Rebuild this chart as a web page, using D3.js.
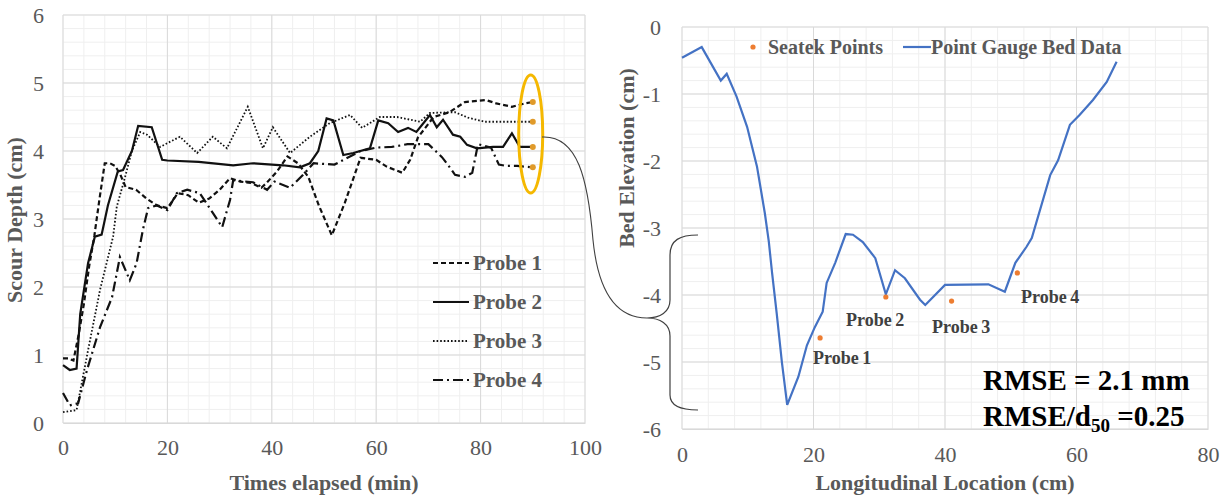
<!DOCTYPE html>
<html>
<head>
<meta charset="utf-8">
<script src="https://cdn.jsdelivr.net/npm/d3@7"></script>
<style>
  body { margin: 0; background: #fff; }
  svg { display: block; }
  text { font-family: "Times New Roman", "Liberation Serif", serif; }
</style>
</head>
<body>
<svg width="1231" height="500"></svg>
<script>
// left chart: scour depth over time, one pair of arrays per probe
var probe1T = [0, 1, 2, 3, 4, 5, 6, 7, 8, 9, 10, 11, 12, 14, 16, 18, 20, 22, 24, 26, 28, 30, 32, 34, 36, 38, 39, 41, 43, 45, 47, 49, 51.5, 54, 57, 60, 62, 65, 66.5, 68, 71, 74, 77, 81, 83, 86, 88.5, 90];
var probe1D = [0.95, 0.95, 0.92, 1.3, 1.75, 2.3, 2.75, 3.3, 3.82, 3.82, 3.78, 3.65, 3.47, 3.43, 3.3, 3.2, 3.16, 3.38, 3.35, 3.24, 3.3, 3.43, 3.6, 3.55, 3.53, 3.46, 3.53, 3.7, 3.92, 3.82, 3.62, 3.2, 2.76, 3.24, 3.9, 3.87, 3.77, 3.68, 3.87, 4.2, 4.5, 4.57, 4.72, 4.75, 4.7, 4.65, 4.7, 4.72];
var probe2T = [0, 1.3, 2.6, 3.3, 4.8, 6.1, 7.4, 8.6, 10.5, 11.5, 13.2, 14.4, 17, 19, 20, 26, 32.6, 36.4, 42.1, 45.4, 47.3, 48.9, 50.5, 51.8, 53.7, 55.6, 58.8, 60.4, 62.3, 64.2, 66.1, 67.7, 70.3, 71.6, 72.8, 74.7, 76.1, 77.4, 79.3, 82.4, 84.3, 86, 87.5, 90];
var probe2D = [0.85, 0.78, 0.8, 1.6, 2.35, 2.74, 2.77, 3.2, 3.7, 3.72, 4.0, 4.37, 4.35, 3.87, 3.86, 3.84, 3.79, 3.82, 3.79, 3.76, 3.82, 4.0, 4.48, 4.45, 3.94, 3.97, 4.04, 4.45, 4.41, 4.28, 4.34, 4.28, 4.53, 4.35, 4.46, 4.24, 4.21, 4.09, 4.04, 4.06, 4.06, 4.26, 4.06, 4.06];
var probe3T = [0, 2.6, 4.8, 7.1, 9.6, 10.3, 11.9, 13.2, 14.8, 16.1, 18.6, 22.4, 25.7, 28.7, 31.4, 35.4, 38.3, 40.2, 43.5, 47.3, 51.1, 55, 57.3, 60.7, 64, 68.4, 70.3, 75.1, 77.6, 80.8, 84.1, 90];
var probe3D = [0.16, 0.19, 1.07, 1.96, 2.74, 3.18, 3.62, 4.0, 4.28, 4.24, 4.06, 4.21, 3.97, 4.21, 4.04, 4.65, 4.04, 4.35, 3.97, 4.21, 4.41, 4.53, 4.34, 4.5, 4.5, 4.43, 4.56, 4.57, 4.49, 4.43, 4.43, 4.43];
var probe4T = [0, 1.3, 2.9, 4.6, 7.1, 9.4, 10.9, 12.8, 14.1, 15.3, 16.3, 18, 20, 21.8, 23.8, 26.2, 28.7, 30.5, 32, 32.6, 36.4, 39.1, 40.5, 43.5, 46, 48, 52, 57, 60, 63, 66, 70, 72.6, 73.8, 75.1, 77, 78.4, 79.5, 82, 83.5, 85, 87, 90];
var probe4D = [0.44, 0.26, 0.29, 0.78, 1.41, 1.85, 2.44, 2.1, 2.35, 2.84, 3.16, 3.2, 3.13, 3.38, 3.43, 3.38, 3.09, 2.88, 3.28, 3.57, 3.54, 3.43, 3.55, 3.46, 3.65, 3.82, 3.8, 4.0, 4.05, 4.06, 4.1, 4.1, 3.91, 3.79, 3.65, 3.62, 3.68, 4.1, 4.05, 3.8, 3.78, 3.78, 3.76];
var probeNames = ["Probe 1", "Probe 2", "Probe 3", "Probe 4"];
var timeTicks = [0, 20, 40, 60, 80, 100];
var depthTicks = [0, 1, 2, 3, 4, 5, 6];

// right chart: bed profile and seatek points
var bedX = [0, 3, 5.9, 6.8, 8.3, 9.9, 11.4, 12.6, 13.2, 13.7, 14.4, 15.2, 16, 17.7, 19, 20.2, 21.4, 22, 23.3, 24.9, 26, 27.5, 29.4, 31, 32.4, 33.9, 36.2, 37, 40, 46.6, 49.1, 50.7, 52.4, 53.2, 56, 57.2, 59, 60.5, 62.5, 64.6, 66.1];
var bedY = [-0.46, -0.3, -0.8, -0.7, -1.04, -1.49, -2.08, -2.78, -3.2, -3.67, -4.27, -5.01, -5.64, -5.22, -4.75, -4.48, -4.25, -3.82, -3.52, -3.09, -3.1, -3.21, -3.45, -3.99, -3.63, -3.75, -4.07, -4.15, -3.85, -3.84, -3.95, -3.52, -3.28, -3.15, -2.21, -1.99, -1.46, -1.31, -1.09, -0.82, -0.52];
var seatekX = [21, 31, 41, 51];
var seatekY = [-4.64, -4.03, -4.09, -3.67];
var locTicks = [0, 20, 40, 60, 80];
var elevTicks = [-6, -5, -4, -3, -2, -1, 0];

var svg = d3.select("svg");
var grey = "#595959";
var plain = function(d) { return String(d); };

function grid(g, x, y, xMinor, yMinor) {
  var x0 = x.range()[0], x1 = x.range()[1], y0 = y.range()[0], y1 = y.range()[1];
  g.selectAll(".mx").data(xMinor).enter().append("line")
    .attr("x1", x).attr("x2", x).attr("y1", y0).attr("y2", y1)
    .attr("stroke", "#efefef").attr("stroke-width", 1);
  g.selectAll(".my").data(yMinor).enter().append("line")
    .attr("y1", y).attr("y2", y).attr("x1", x0).attr("x2", x1)
    .attr("stroke", "#efefef").attr("stroke-width", 1);
  g.selectAll(".gx").data(x.ticks(5)).enter().append("line")
    .attr("x1", x).attr("x2", x).attr("y1", y0).attr("y2", y1)
    .attr("stroke", "#d9d9d9").attr("stroke-width", 1);
  g.selectAll(".gy").data(y.ticks(6)).enter().append("line")
    .attr("y1", y).attr("y2", y).attr("x1", x0).attr("x2", x1)
    .attr("stroke", "#d9d9d9").attr("stroke-width", 1);
}

function styleTicks(a, keepDomain) {
  if (keepDomain) a.select(".domain").attr("stroke", "#d9d9d9");
  else a.select(".domain").remove();
  a.selectAll("text").attr("fill", grey).style("font-size", "22px").style("font-family", "'Liberation Serif', serif");
}

// ---------- left chart ----------
var xL = d3.scaleLinear().domain([0, 100]).range([63, 585]);
var yL = d3.scaleLinear().domain([0, 6]).range([423, 15]);
var gL = svg.append("g");
grid(gL, xL, yL, d3.range(0, 100.1, 4), d3.range(0, 6.01, 0.2));

gL.append("g").attr("transform", "translate(0,423)")
  .call(d3.axisBottom(xL).tickValues(timeTicks).tickFormat(plain).tickSize(0).tickPadding(16))
  .call(styleTicks, true);
gL.append("g").attr("transform", "translate(63,0)")
  .call(d3.axisLeft(yL).tickValues(depthTicks).tickFormat(plain).tickSize(0).tickPadding(19))
  .call(styleTicks, false);

var probes = [
  { t: probe1T, d: probe1D, dash: "5,3", w: 2.2 },
  { t: probe2T, d: probe2D, dash: null, w: 2.2 },
  { t: probe3T, d: probe3D, dash: "1.6,2", w: 1.8 },
  { t: probe4T, d: probe4D, dash: "10,4,2,4", w: 2.2 }
];
var lineL = d3.line().x(function(d) { return xL(d[0]); }).y(function(d) { return yL(d[1]); });
probes.forEach(function(p) {
  gL.append("path")
    .datum(d3.zip(p.t, p.d))
    .attr("d", lineL)
    .attr("fill", "none").attr("stroke", "#111").attr("stroke-width", p.w)
    .attr("stroke-dasharray", p.dash);
  gL.append("circle")
    .attr("cx", xL(p.t[p.t.length - 1])).attr("cy", yL(p.d[p.d.length - 1]))
    .attr("r", 3).attr("fill", "#e09a2a");
});

// legend
probes.forEach(function(p, i) {
  var yy = 263 + i * 39;
  gL.append("line").attr("x1", 433).attr("x2", 469).attr("y1", yy).attr("y2", yy)
    .attr("stroke", "#111").attr("stroke-width", p.w).attr("stroke-dasharray", p.dash);
  gL.append("text").attr("x", 473).attr("y", yy + 7).text(probeNames[i])
    .attr("fill", grey).style("font-size", "21px").style("font-weight", "bold");
});

gL.append("text").attr("x", 324).attr("y", 490).attr("text-anchor", "middle")
  .text("Times elapsed (min)").attr("fill", grey).style("font-size", "22px").style("font-weight", "bold");
gL.append("text").attr("transform", "translate(22,220) rotate(-90)").attr("text-anchor", "middle")
  .text("Scour Depth (cm)").attr("fill", grey).style("font-size", "22px").style("font-weight", "bold");

// yellow ellipse round the line ends
gL.append("ellipse").attr("cx", xL(89.6)).attr("cy", yL(4.25)).attr("rx", 12).attr("ry", 59)
  .attr("fill", "none").attr("stroke", "#f5b800").attr("stroke-width", 3);

// ---------- right chart ----------
var xR = d3.scaleLinear().domain([0, 80]).range([682, 1208]);
var yR = d3.scaleLinear().domain([-6, 0]).range([429, 27]);
var gR = svg.append("g");
grid(gR, xR, yR, d3.range(0, 80.1, 4), d3.range(-6, 0.01, 0.2));

gR.append("g").attr("transform", "translate(0,429)")
  .call(d3.axisBottom(xR).tickValues(locTicks).tickFormat(plain).tickSize(0).tickPadding(17))
  .call(styleTicks, true);
gR.append("g").attr("transform", "translate(682,0)")
  .call(d3.axisLeft(yR).tickValues(elevTicks).tickFormat(plain).tickSize(0).tickPadding(21))
  .call(styleTicks, false);

var lineR = d3.line().x(function(d) { return xR(d[0]); }).y(function(d) { return yR(d[1]); });
gR.append("path").datum(d3.zip(bedX, bedY)).attr("d", lineR)
  .attr("fill", "none").attr("stroke", "#4472c4").attr("stroke-width", 2.2);

gR.selectAll(".pt").data(d3.zip(seatekX, seatekY)).enter().append("circle")
  .attr("cx", function(d) { return xR(d[0]); }).attr("cy", function(d) { return yR(d[1]); })
  .attr("r", 2.6).attr("fill", "#ed7d31");

var labelPos = [[813, 364], [846, 326], [932, 333], [1021, 303]];
labelPos.forEach(function(p, i) {
  gR.append("text").attr("x", p[0]).attr("y", p[1]).text(probeNames[i])
    .attr("fill", "#404040").style("font-size", "18px").style("font-weight", "bold").style("word-spacing", "-1px");
});

// legend
gR.append("circle").attr("cx", 753).attr("cy", 47).attr("r", 2.6).attr("fill", "#ed7d31");
gR.append("text").attr("x", 768).attr("y", 54).text("Seatek Points")
  .attr("fill", grey).style("font-size", "20px").style("font-weight", "bold");
gR.append("line").attr("x1", 903).attr("x2", 931).attr("y1", 47).attr("y2", 47)
  .attr("stroke", "#4472c4").attr("stroke-width", 2.2);
gR.append("text").attr("x", 931).attr("y", 54).text("Point Gauge Bed Data")
  .attr("fill", grey).style("font-size", "20px").style("font-weight", "bold");

gR.append("text").attr("x", 945).attr("y", 490).attr("text-anchor", "middle")
  .text("Longitudinal Location (cm)").attr("fill", grey).style("font-size", "22px").style("font-weight", "bold");
gR.append("text").attr("transform", "translate(634,158) rotate(-90)").attr("text-anchor", "middle")
  .text("Bed Elevation (cm)").attr("fill", grey).style("font-size", "22px").style("font-weight", "bold");

// RMSE notes
gR.append("text").attr("x", 983).attr("y", 390).text("RMSE = 2.1 mm")
  .attr("fill", "#000").style("font-size", "29px").style("font-weight", "bold");
var t2 = gR.append("text").attr("x", 983).attr("y", 426)
  .attr("fill", "#000").style("font-size", "29px").style("font-weight", "bold");
t2.append("tspan").text("RMSE/d");
t2.append("tspan").attr("dy", 6).style("font-size", "19px").text("50");
t2.append("tspan").attr("dy", -6).text(" =0.25");

// brace and connector
svg.append("path")
  .attr("d", "M698,235 C680,235 670,240 670,255 L670,300 C670,312 660,318 647,318 C660,318 670,324 670,336 L670,395 C670,405 680,410 698,410")
  .attr("fill", "none").attr("stroke", "#404040").attr("stroke-width", 1.2);
svg.append("path")
  .attr("d", "M542,137 C578,135 588,180 593,240 C598,290 615,318 647,318")
  .attr("fill", "none").attr("stroke", "#404040").attr("stroke-width", 1.1);
</script>
</body>
</html>
